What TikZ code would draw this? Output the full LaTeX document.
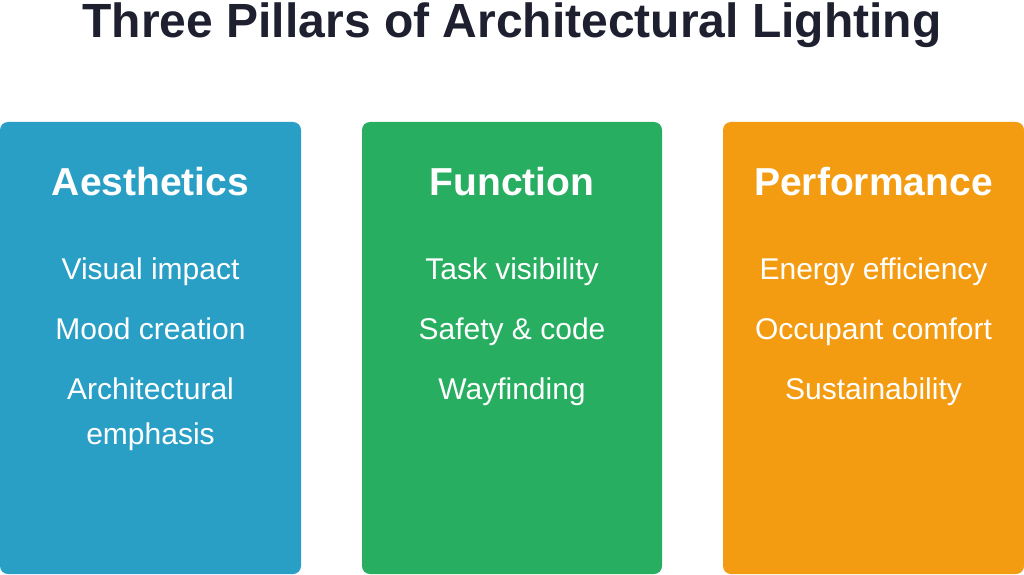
\documentclass[tikz,border=0pt]{standalone}
\usepackage{fontspec}
\setmainfont{Liberation Sans}
\definecolor{cblue}{HTML}{2A9FC6}
\definecolor{cgreen}{HTML}{27AE60}
\definecolor{corange}{HTML}{F39C12}
\definecolor{ctitle}{HTML}{1E2030}
\tikzset{
  pillar/.style={fill=#1, draw=none, rounded corners=8pt},
  head/.style={text=white, font=\fontsize{39}{44}\selectfont\bfseries, anchor=base},
  item/.style={text=white, font=\fontsize{30}{45}\selectfont, anchor=base, align=center},
}
\begin{document}
\begin{tikzpicture}[x=1pt,y=1pt]
\useasboundingbox (0,0) rectangle (1024,574);
\node[text=ctitle, font=\fontsize{48}{52}\selectfont\bfseries, anchor=base] (title) at (512,574-38) {Three Pillars of Architectural Lighting};
\fill[pillar=cblue] (0,574-122) rectangle (301,0) coordinate (b1);
\fill[pillar=cgreen] (362,574-122) rectangle (662,0) coordinate (b2);
\fill[pillar=corange] (723,574-122) rectangle (1024,0) coordinate (b3);
\node[head] (h1) at (150.5,574-195) {Aesthetics};
\node[head] (h2) at (512,574-195) {Function};
\node[head] (h3) at (873.5,574-195) {Performance};
\node[item] (a1) at (150.5,574-279) {Visual impact};
\node[item] (a2) at (150.5,574-339) {Mood creation};
\node[item] (a3) at (150.5,574-444) {Architectural\\emphasis};
\node[item] (f1) at (512,574-279) {Task visibility};
\node[item] (f2) at (512,574-339) {Safety \& code};
\node[item] (f3) at (512,574-399) {Wayfinding};
\node[item] (p1) at (873.5,574-279) {Energy efficiency};
\node[item] (p2) at (873.5,574-339) {Occupant comfort};
\node[item] (p3) at (873.5,574-399) {Sustainability};
\end{tikzpicture}
\end{document}
